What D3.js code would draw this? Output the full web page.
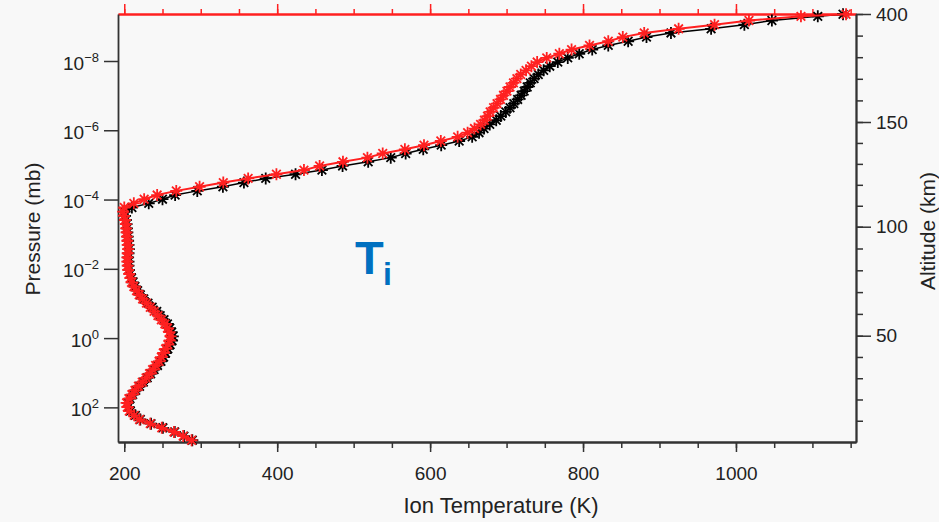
<!DOCTYPE html>
<html><head><meta charset="utf-8">
<script src="https://cdn.jsdelivr.net/npm/d3@7"></script>
<style>
html,body{margin:0;padding:0;background:#f8f8f8;}
svg{display:block;font-family:"Liberation Sans",Arial,sans-serif;}
</style></head><body>
<svg id="chart" width="939" height="522"></svg>
<script>
// log10 of pressure (mb) at each model level
const logPressure = [
  2.95, 2.83, 2.71, 2.59, 2.47, 2.35, 2.23, 2.11, 1.99, 1.87,
  1.75, 1.63, 1.51, 1.39, 1.27, 1.15, 1.03, 0.91, 0.79, 0.67,
  0.55, 0.43, 0.31, 0.19, 0.07, -0.05, -0.17, -0.29, -0.41, -0.53,
  -0.65, -0.77, -0.89, -1.01, -1.13, -1.25, -1.37, -1.49, -1.61, -1.73,
  -1.85, -1.97, -2.09, -2.21, -2.33, -2.45, -2.57, -2.69, -2.81, -2.93,
  -3.05, -3.17, -3.29, -3.41, -3.53, -3.65, -3.77, -3.89, -4.01, -4.13,
  -4.25, -4.37, -4.49, -4.61, -4.73, -4.85, -4.97, -5.09, -5.21, -5.33,
  -5.45, -5.57, -5.69, -5.81, -5.93, -6.05, -6.17, -6.29, -6.41, -6.53,
  -6.65, -6.77, -6.89, -7.01, -7.13, -7.25, -7.37, -7.49, -7.61, -7.73,
  -7.85, -7.97, -8.09, -8.21, -8.33, -8.45, -8.57, -8.69, -8.81, -8.93,
  -9.05, -9.17, -9.29, -9.35
];
// Ion temperature (K), black series
const tempBlack = [
  289, 278, 266, 250.5, 235, 221, 214.5, 208, 205.5, 204.5,
  207.5, 211, 215, 220, 225, 230, 234.5, 239, 243.5, 248,
  251.5, 254, 257, 260, 262.5, 263.5, 262, 259.5, 256.5, 252,
  247, 242.5, 236.5, 231, 225.5, 221, 217.5, 214, 211, 209.5,
  207.5, 206, 205.5, 205.5, 205, 205.5, 206, 205.5, 205, 204.5,
  204, 203.5, 203, 202, 201, 200.5, 210, 232, 250, 266.5,
  295.5, 329, 356.5, 385, 424, 458.5, 485.5, 519, 548.5, 568,
  591, 614.5, 638, 655, 664, 670.5, 678, 686.5, 692.5, 699,
  704.5, 709.5, 714.5, 719, 723, 727, 731, 736, 741.5, 748.5,
  756.5, 767, 780, 795, 812, 833, 859, 883, 915, 967.5,
  1011, 1047, 1107, 1140
];
// Ion temperature (K), red series
const tempRed = [
  288, 277, 265, 249, 234, 220, 213, 206.5, 204, 203,
  206, 210, 214, 218.5, 223.5, 228.5, 233, 237, 241, 245.5,
  248.5, 251, 254, 257, 259.5, 260.5, 259, 256.5, 253, 248.5,
  244, 239, 234, 229, 224, 219.5, 216, 212.5, 209.5, 208,
  206.5, 205, 204.5, 204, 204, 204.5, 205, 204.5, 204, 203.5,
  203, 202.5, 202, 201, 199.5, 198.5, 200, 212.5, 226, 243,
  268, 298.5, 329.5, 362, 399, 435, 455.5, 486, 518, 538,
  567, 592, 614, 636, 649, 658, 666, 671, 675, 678.5,
  683, 687.5, 692, 696, 700.5, 704.5, 709, 713.5, 718.5, 725.5,
  732.5, 740, 752.5, 769, 785, 808.5, 833, 852, 880, 925,
  972, 1017, 1085, 1144
];
const tempTicksMajor = [200, 400, 600, 800, 1000];
const tempTicksMinor = [200, 250, 300, 350, 400, 450, 500, 550, 600, 650, 700, 750, 800, 850, 900, 950, 1000, 1050, 1100, 1150];
const pressureExponents = [-8, -6, -4, -2, 0, 2];
const altitudeTicksMinor = [10, 20, 30, 40, 50, 60, 70, 80, 90, 100, 110, 120, 130, 140, 150, 200, 250, 300, 350, 400];
const altitudeTicksMajor = [50, 100, 150, 400];

const svg = d3.select("#chart");
const RED = "#ff2020";
const AX = "#333";

const x = d3.scaleLinear().domain([191.8, 1157]).range([118, 856]);
const y = d3.scaleLog().domain([1000, Math.pow(10, -9.357)]).range([442, 14]);
const alt = d3.scaleLinear().domain([0, 50, 100, 150, 400]).range([442, 335.7, 226.7, 122, 14]);

function styleAxis(g, color, width) {
  g.selectAll("path.domain").attr("stroke", color).attr("stroke-width", width);
  g.selectAll(".tick line").attr("stroke", color).attr("stroke-width", 1.5);
  g.selectAll(".tick text").attr("fill", "#222").style("font-size", "19px")
    .style("font-family", '"Liberation Sans", Arial, sans-serif');
}

// bottom axis
const gb1 = svg.append("g").attr("transform", "translate(0,442)")
  .call(d3.axisBottom(x).tickValues(tempTicksMinor).tickSize(6).tickSizeOuter(0).tickFormat(""));
styleAxis(gb1, AX, 1.8);
const gb2 = svg.append("g").attr("transform", "translate(0,442)")
  .call(d3.axisBottom(x).tickValues(tempTicksMajor).tickSize(10).tickSizeOuter(0).tickPadding(15).tickFormat(d3.format("d")));
styleAxis(gb2, AX, 1.8);

// top axis (red)
const gt1 = svg.append("g").attr("transform", "translate(0,14)")
  .call(d3.axisTop(x).tickValues(tempTicksMinor).tickSize(5).tickSizeOuter(0).tickFormat(""));
styleAxis(gt1, RED, 1.8);
const gt2 = svg.append("g").attr("transform", "translate(0,14)")
  .call(d3.axisTop(x).tickValues(tempTicksMajor).tickSize(10).tickSizeOuter(0).tickFormat(""));
styleAxis(gt2, RED, 1.8);

// left axis (pressure)
const gl = svg.append("g").attr("transform", "translate(118,0)")
  .call(d3.axisLeft(y).tickValues(pressureExponents.map(e => Math.pow(10, e))).tickSize(14).tickSizeOuter(0).tickFormat(""));
styleAxis(gl, AX, 1.8);
gl.selectAll(".tick").each(function(d, i) {
  const t = d3.select(this).select("text");
  t.attr("x", -19).attr("dy", null).attr("y", 8).attr("text-anchor", "end");
  t.append("tspan").text("10");
  t.append("tspan").attr("dy", -8).style("font-size", "13px").text(String(pressureExponents[i]).replace("-", "\u2212"));
});

// right axis (altitude)
const gr1 = svg.append("g").attr("transform", "translate(856,0)")
  .call(d3.axisRight(alt).tickValues(altitudeTicksMinor).tickSize(7).tickSizeOuter(0).tickFormat(""));
styleAxis(gr1, AX, 1.8);
const gr2 = svg.append("g").attr("transform", "translate(856,0)")
  .call(d3.axisRight(alt).tickValues(altitudeTicksMajor).tickSize(15).tickSizeOuter(0).tickPadding(5).tickFormat(d3.format("d")));
styleAxis(gr2, AX, 1.8);

// axis titles
svg.append("text").attr("x", 501).attr("y", 513).attr("text-anchor", "middle")
  .attr("fill", "#222").style("font-size", "22px").text("Ion Temperature (K)");
svg.append("text").attr("transform", "translate(40,229) rotate(-90)").attr("text-anchor", "middle")
  .attr("fill", "#222").style("font-size", "21px").text("Pressure (mb)");
svg.append("text").attr("transform", "translate(935,231) rotate(-90)").attr("text-anchor", "middle")
  .attr("fill", "#222").style("font-size", "21px").text("Altitude (km)");

// T_i annotation
svg.append("text").attr("x", 355).attr("y", 274).attr("fill", "#0070c0")
  .style("font-size", "47px").style("font-weight", "bold").text("T");
svg.append("text").attr("x", 383).attr("y", 285).attr("fill", "#0070c0")
  .style("font-size", "32px").style("font-weight", "bold").text("i");

// series
const star = "M-6,0H6M0,-6V6M-4.3,-4.3L4.3,4.3M-4.3,4.3L4.3,-4.3";
const line = d3.line().x(d => x(d.t)).y(d => y(Math.pow(10, d.lp)));
function drawSeries(temps, color, lw) {
  const data = logPressure.map((lp, i) => ({lp, t: temps[i]}));
  const g = svg.append("g");
  g.append("path").datum(data).attr("d", line).attr("fill", "none")
    .attr("stroke", color).attr("stroke-width", lw);
  g.selectAll("path.mk").data(data).enter().append("path").attr("class", "mk")
    .attr("transform", d => `translate(${x(d.t)},${y(Math.pow(10, d.lp))})`)
    .attr("d", star).attr("fill", "none").attr("stroke", color).attr("stroke-width", 1.8);
}
drawSeries(tempBlack, "#000", 1.5);
drawSeries(tempRed, RED, 2);
</script>
</body></html>
